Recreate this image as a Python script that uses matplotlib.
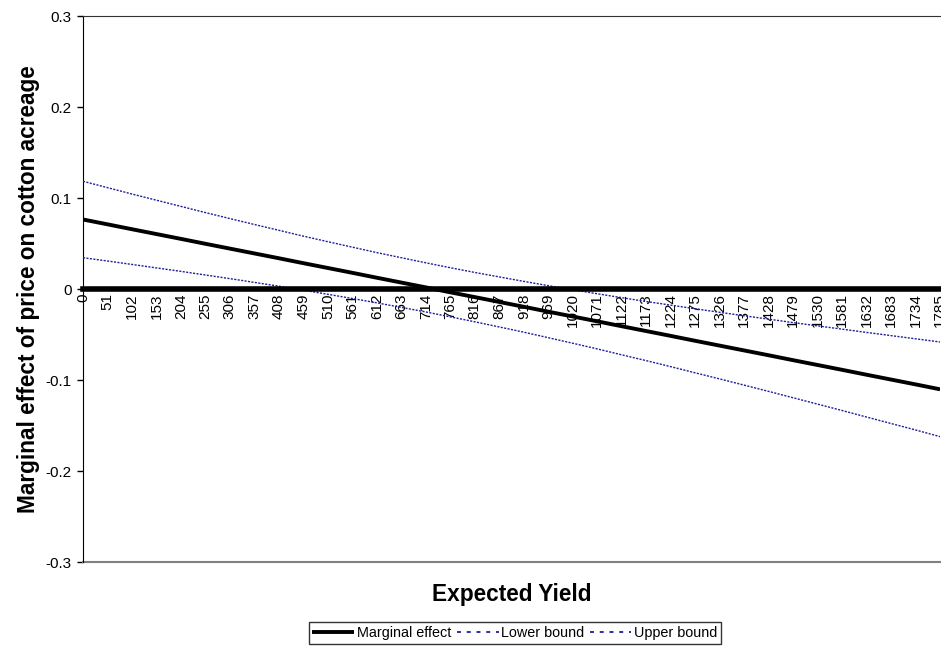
import matplotlib
matplotlib.use("Agg")
import matplotlib.pyplot as plt

plt.rcParams['font.family'] = ['Liberation Sans', 'DejaVu Sans']

# expected yield categories (x axis)
yield_levels = [0, 51, 102, 153, 204, 255, 306, 357, 408, 459, 510, 561,
                612, 663, 714, 765, 816, 867, 918, 969, 1020, 1071, 1122, 1173,
                1224, 1275, 1326, 1377, 1428, 1479, 1530, 1581, 1632, 1683, 1734, 1785]

marginal_effect = [0.0764, 0.0711, 0.0657, 0.0604, 0.0551, 0.0497, 0.0444, 0.0391,
                   0.0338, 0.0284, 0.0231, 0.0178, 0.0124, 0.0071, 0.0018, -0.0036,
                   -0.0089, -0.0142, -0.0195, -0.0249, -0.0302, -0.0355, -0.0409, -0.0462,
                   -0.0515, -0.0569, -0.0622, -0.0675, -0.0728, -0.0782, -0.0835, -0.0888,
                   -0.0942, -0.0995, -0.1048, -0.1102]

lower_bound = [0.0344, 0.0308, 0.0270, 0.0232, 0.0194, 0.0154, 0.0114, 0.0073,
               0.0031, -0.0013, -0.0058, -0.0104, -0.0152, -0.0202, -0.0252, -0.0306,
               -0.0360, -0.0417, -0.0474, -0.0535, -0.0596, -0.0658, -0.0723, -0.0787,
               -0.0853, -0.0921, -0.0988, -0.1056, -0.1125, -0.1195, -0.1265, -0.1335,
               -0.1407, -0.1478, -0.1549, -0.1622]

upper_bound = [0.1184, 0.1114, 0.1044, 0.0976, 0.0908, 0.0840, 0.0774, 0.0709,
               0.0645, 0.0581, 0.0520, 0.0460, 0.0400, 0.0344, 0.0288, 0.0234,
               0.0182, 0.0133, 0.0084, 0.0037, -0.0008, -0.0052, -0.0095, -0.0137,
               -0.0177, -0.0217, -0.0256, -0.0294, -0.0331, -0.0369, -0.0405, -0.0441,
               -0.0477, -0.0512, -0.0547, -0.0582]

y_ticks = [-0.3, -0.2, -0.1, 0, 0.1, 0.2, 0.3]
y_tick_labels = ['-0.3', '-0.2', '-0.1', '0', '0.1', '0.2', '0.3']

band_color = '#1f1f9a'

fig = plt.figure(figsize=(9.41, 6.46), dpi=100)
ax = fig.add_axes([0.0882, 0.130, 0.9108, 0.8452])

pos = list(range(len(yield_levels)))
ax.plot(pos, marginal_effect, color='black', linewidth=2.8, label='Marginal effect',
        solid_capstyle='butt', zorder=4)
ax.plot(pos, lower_bound, color=band_color, linewidth=1.0, linestyle=(0, (1.5, 1)),
        label='Lower bound', zorder=3)
ax.plot(pos, upper_bound, color=band_color, linewidth=1.0, linestyle=(0, (1.5, 1)),
        label='Upper bound', zorder=3)

ax.set_xlim(0, len(yield_levels) - 1)
ax.set_ylim(-0.3, 0.3)

# category axis crosses at zero, drawn as a heavy rule
ax.spines['bottom'].set_position(('data', 0))
ax.spines['bottom'].set_linewidth(4.0)
ax.spines['bottom'].set_color('black')
ax.spines['bottom'].set_zorder(5)
ax.spines['right'].set_visible(False)
ax.spines['top'].set_color('#333333')
ax.spines['left'].set_color('black')
# plot-area border along the bottom
ax.axhline(ax.get_ylim()[0], color='#808080', linewidth=1.5, clip_on=False)

ax.set_xticks(pos)
ax.set_xticklabels([str(v) for v in yield_levels], rotation=90, fontsize=11)
ax.tick_params(axis='x', length=0, pad=3)

ax.set_yticks(y_ticks)
ax.set_yticklabels(y_tick_labels, fontsize=11)
ax.tick_params(axis='y', length=4, width=1, pad=4, direction='out')

ax.set_xlabel('Expected Yield', fontsize=16.3, fontweight='bold')
ax.xaxis.set_label_coords(0.5, (562 - 594) / 546)
ax.xaxis.label.set_va('center')
ax.set_ylabel('Marginal effect of price on cotton acreage', fontsize=16.3, fontweight='bold')
ax.yaxis.set_label_coords((29 - 83) / 857, 0.5)
ax.yaxis.label.set_va('center')

leg = fig.legend(loc='center', bbox_to_anchor=(515 / 941, 1 - 633 / 646), ncol=3,
                 fontsize=10.4, frameon=True, fancybox=False, edgecolor='black',
                 handlelength=2.9, handletextpad=0.2, columnspacing=0.35,
                 borderpad=0.25, borderaxespad=0)
leg.get_frame().set_linewidth(1.0)
# wider dashes in the key so the bound style reads clearly
for handle in leg.get_lines()[1:]:
    handle.set_linestyle((0, (2.2, 3.2)))
    handle.set_linewidth(1.3)

fig.savefig('out.png', dpi=100)
